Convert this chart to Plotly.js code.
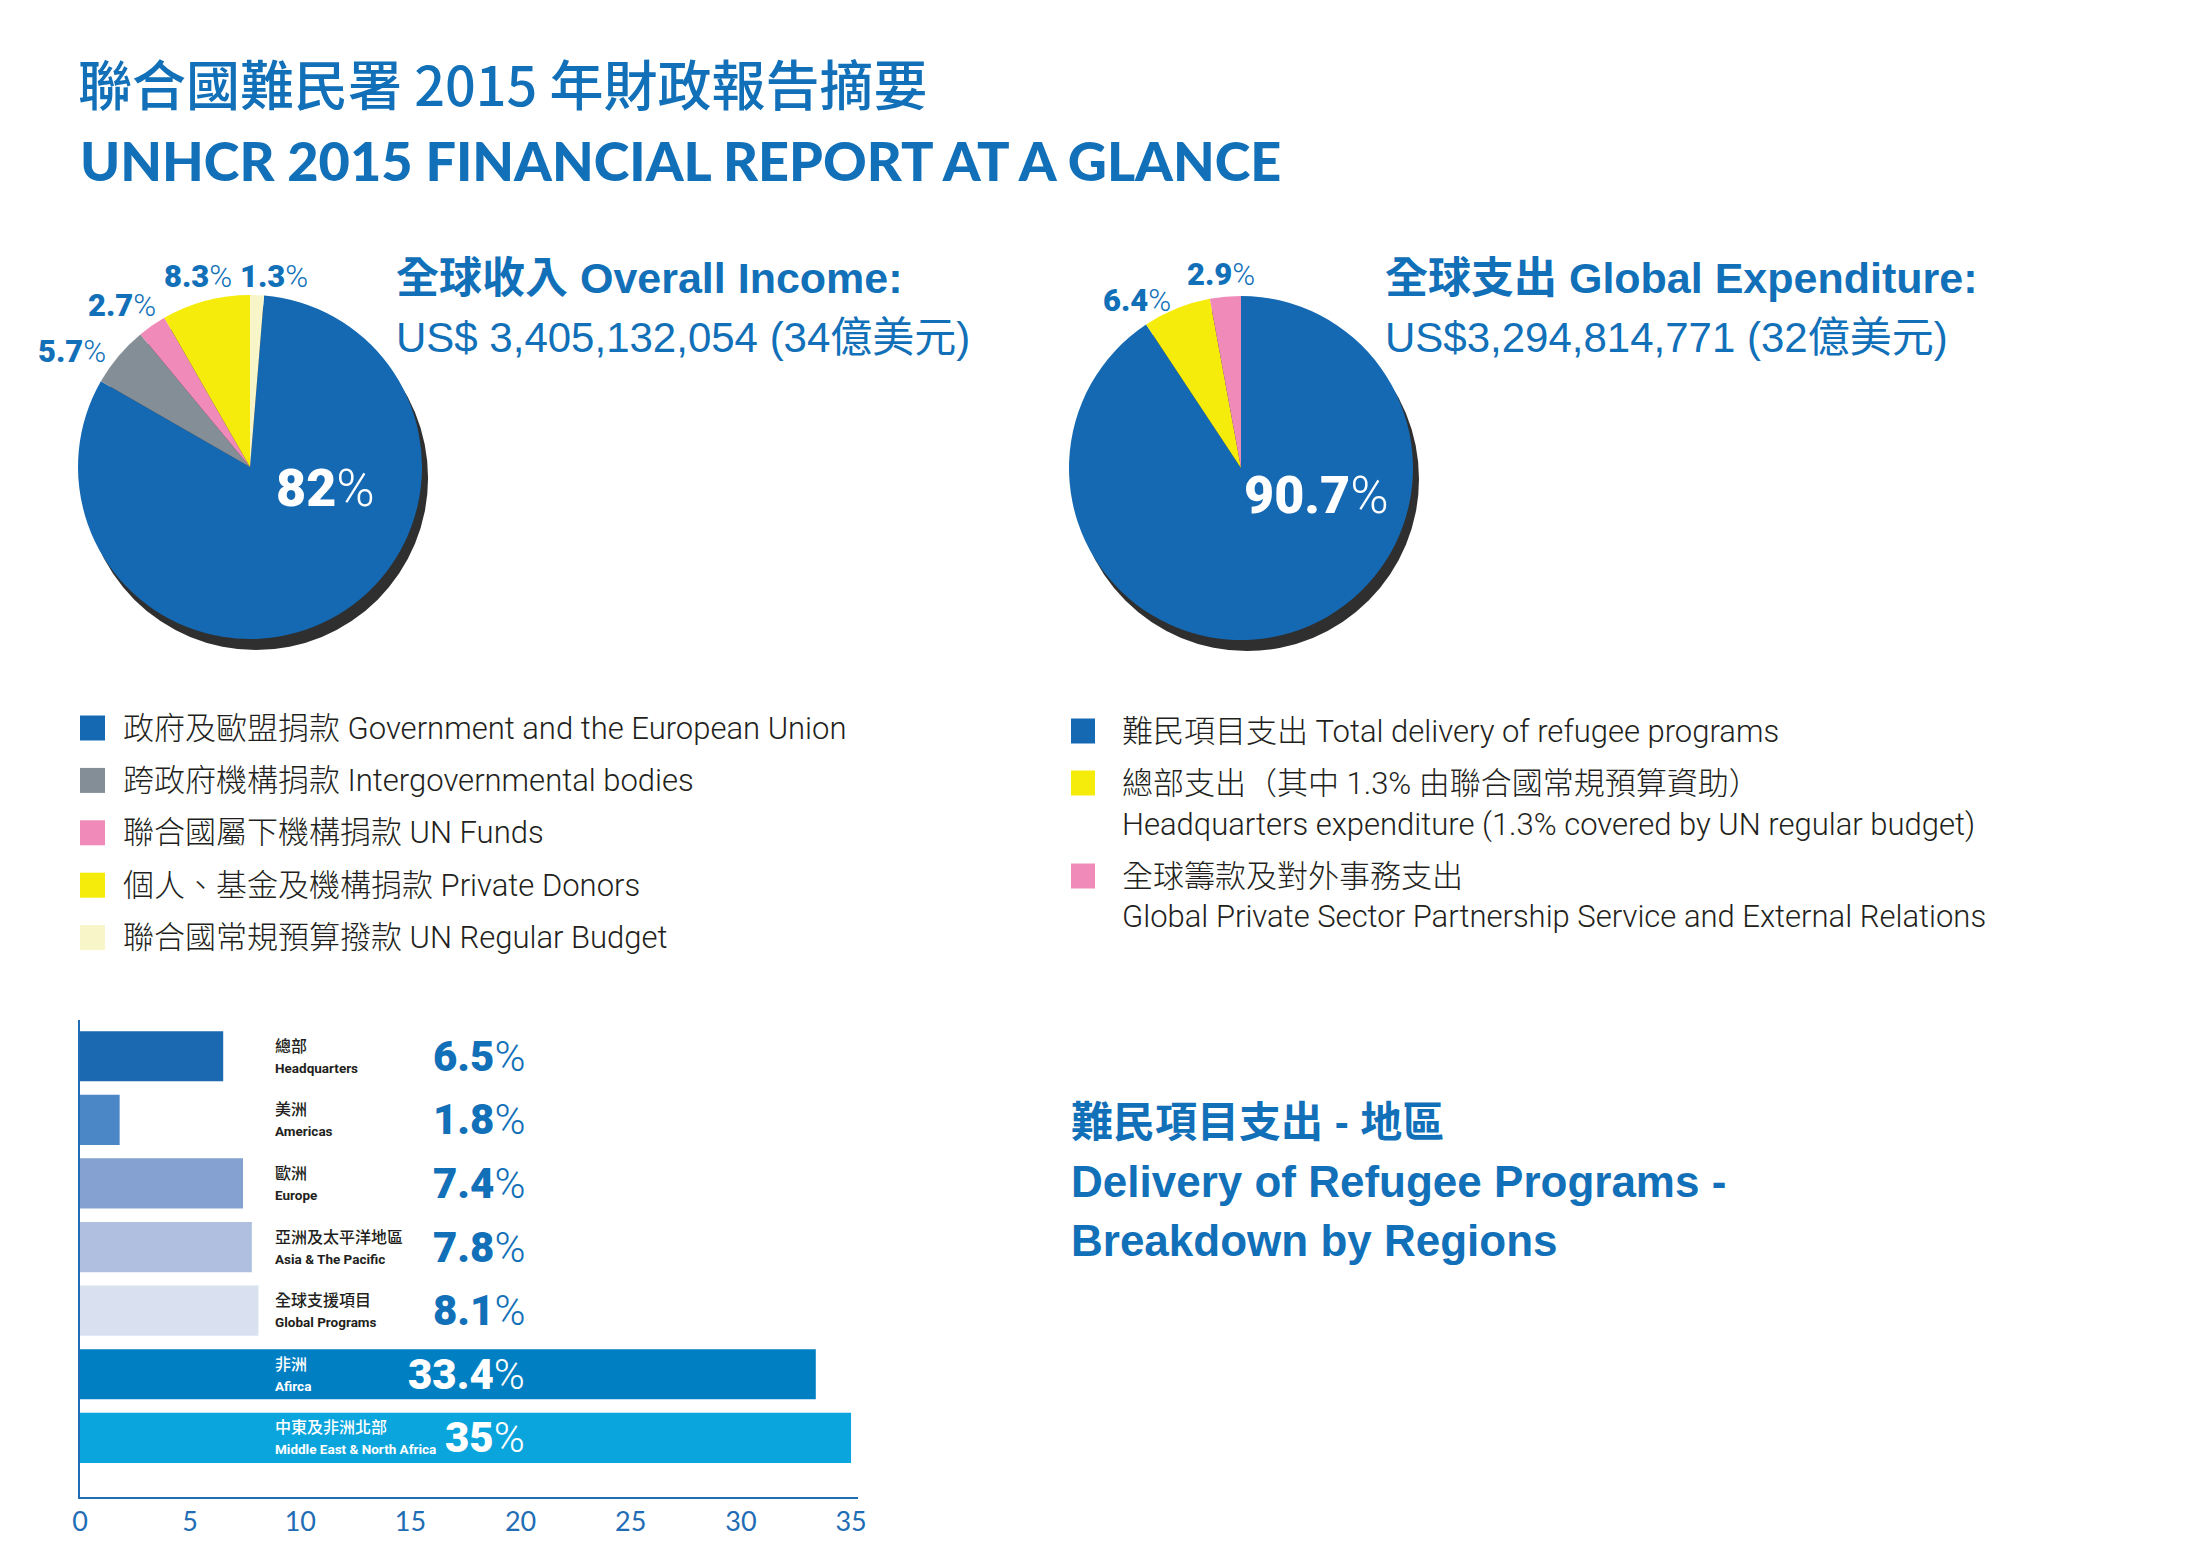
<!DOCTYPE html>
<html>
<head>
<meta charset="utf-8">
<script src="https://cdn.plot.ly/plotly-3.0.1.min.js"></script>
<style>html,body{margin:0;padding:0;background:#fff;}#chart{width:2204px;height:1550px;}</style>
</head>
<body>
<div id="chart"></div>
<script>
// ---------- DATA ----------
const titleZh = '聯合國難民署 2015 年財政報告摘要';
const titleEn = 'UNHCR 2015 FINANCIAL REPORT AT A GLANCE';

const incomeTitle = '全球收入 Overall Income:';
const incomeTotal = 'US$ 3,405,132,054 (34億美元)';
const incomeLabels = [
  '政府及歐盟捐款 Government and the European Union',
  '跨政府機構捐款 Intergovernmental bodies',
  '聯合國屬下機構捐款 UN Funds',
  '個人、基金及機構捐款 Private Donors',
  '聯合國常規預算撥款 UN Regular Budget'
];
const incomeValues = [82, 5.7, 2.7, 8.3, 1.3];

const expenseTitle = '全球支出 Global Expenditure:';
const expenseTotal = 'US$3,294,814,771 (32億美元)';
const expenseLabels = [
  '難民項目支出 Total delivery of refugee programs',
  '總部支出（其中 1.3% 由聯合國常規預算資助）<br>Headquarters expenditure (1.3% covered by UN regular budget)',
  '全球籌款及對外事務支出<br>Global Private Sector Partnership Service and External Relations'
];
const expenseValues = [90.7, 6.4, 2.9];

const regionTitleLines = ['難民項目支出 - 地區', 'Delivery of Refugee Programs -', 'Breakdown by Regions'];
const regionZh = ['總部', '美洲', '歐洲', '亞洲及太平洋地區', '全球支援項目', '非洲', '中東及非洲北部'];
const regionEn = ['Headquarters', 'Americas', 'Europe', 'Asia & The Pacific', 'Global Programs', 'Afirca', 'Middle East & North Africa'];
const regionValues = [6.5, 1.8, 7.4, 7.8, 8.1, 33.4, 35];
const xTickValues = [0, 5, 10, 15, 20, 25, 30, 35];

// ---------- STYLE / LAYOUT ----------
const W = 2204, H = 1550;
const BLUE_TXT = '#1170b8';
const DARK_TXT = '#231f20';
const PIE_BLUE = '#1569b2';
const incomeColors = [PIE_BLUE, '#838e96', '#f08ab8', '#f6ec0c', '#f8f6c9'];
const expenseColors = [PIE_BLUE, '#f6ec0c', '#f08ab8'];
const barColors = ['#1a69b1', '#4b87c6', '#85a1d2', '#b0bfe0', '#d9e1f1', '#0080c3', '#0ba5dd'];
const barLabelColors = [DARK_TXT, DARK_TXT, DARK_TXT, DARK_TXT, DARK_TXT, '#ffffff', '#ffffff'];
const barPctColors = [BLUE_TXT, BLUE_TXT, BLUE_TXT, BLUE_TXT, BLUE_TXT, '#ffffff', '#ffffff'];
const SANS = 'Roboto, "Noto Sans CJK TC", sans-serif';
const ARIAL = '"Liberation Sans", Arial, "Noto Sans CJK TC", sans-serif';

// label anchor positions (pixels) for pie percentages, index-aligned with the slices
const incomeLabelPos = [[325, 489], [72, 351], [122, 306], [198, 276], [274, 276]];
const expenseLabelPos = [[1316, 495], [1137, 300], [1221, 274]];

const px = x => x / W;
const py = y => 1 - y / H;
function pieDomain(cx, cy, r) {
  return {x: [(cx - r) / W, (cx + r) / W], y: [1 - (cy + r) / H, 1 - (cy - r) / H]};
}
function pctText(v) {
  return '<span style="font-weight:900">' + v + '</span><span style="font-weight:300">%</span>';
}

const R = 172;
const inc = {cx: 250, cy: 467};
const exp = {cx: 1241, cy: 468};
const SH = {dx: 6, dy: 11};

const traces = [];
// drop shadows under the pies
traces.push({type: 'pie', values: [1], labels: ['s1'], marker: {colors: ['#2f2f2f'], line: {width: 0}},
  domain: pieDomain(inc.cx + SH.dx, inc.cy + SH.dy, R), textinfo: 'none', hoverinfo: 'skip', showlegend: false, sort: false});
traces.push({type: 'pie', values: [1], labels: ['s2'], marker: {colors: ['#2f2f2f'], line: {width: 0}},
  domain: pieDomain(exp.cx + SH.dx, exp.cy + SH.dy, R), textinfo: 'none', hoverinfo: 'skip', showlegend: false, sort: false});

// income pie
traces.push({
  type: 'pie', values: incomeValues, labels: incomeLabels, textinfo: 'none',
  marker: {colors: incomeColors, line: {width: 0}},
  sort: false, direction: 'clockwise',
  rotation: incomeValues[incomeValues.length - 1] * 3.6,
  domain: pieDomain(inc.cx, inc.cy, R), showlegend: false, hoverinfo: 'label+percent'
});
// expenditure pie
traces.push({
  type: 'pie', values: expenseValues, labels: expenseLabels, textinfo: 'none',
  marker: {colors: expenseColors, line: {width: 0}},
  sort: false, direction: 'clockwise', rotation: 0,
  domain: pieDomain(exp.cx, exp.cy, R), showlegend: false, hoverinfo: 'label+percent'
});
// region bars
traces.push({
  type: 'bar', orientation: 'h', x: regionValues, y: regionEn,
  marker: {color: barColors, line: {width: 0}}, width: 0.79,
  hoverinfo: 'x+y', showlegend: false, xaxis: 'x', yaxis: 'y'
});

const annotations = [];
const shapes = [];
function ann(text, x, y, o) {
  annotations.push(Object.assign({text: text, x: px(x), y: py(y), xref: 'paper', yref: 'paper',
    showarrow: false, xanchor: 'left', yanchor: 'middle', align: 'left'}, o || {}));
}

// main English title
ann(titleEn, 78, 160, {font: {family: 'Lato, ' + SANS, size: 54, weight: 900, color: BLUE_TXT}});

// pie titles
ann('<b>' + incomeTitle + '</b>', 394, 278, {font: {family: ARIAL, size: 43, color: BLUE_TXT}});
ann(incomeTotal, 394, 337, {font: {family: ARIAL, size: 42, color: BLUE_TXT}});
ann('<b>' + expenseTitle + '</b>', 1383, 278, {font: {family: ARIAL, size: 43, color: BLUE_TXT}});
ann(expenseTotal, 1383, 337, {font: {family: ARIAL, size: 42, color: BLUE_TXT}});

// pie percentage labels
function pieLabels(values, pos) {
  values.forEach((v, i) => {
    const big = i === 0;
    ann(pctText(v), pos[i][0], pos[i][1], {xanchor: 'center',
      font: {family: SANS, size: big ? 52 : 31, color: big ? '#ffffff' : BLUE_TXT}});
  });
}
pieLabels(incomeValues, incomeLabelPos);
pieLabels(expenseValues, expenseLabelPos);

// left legend
incomeLabels.forEach((lab, i) => {
  const yc = 728 + 52.4 * i;
  shapes.push({type: 'rect', xref: 'paper', yref: 'paper', x0: px(80), x1: px(105), y0: py(yc + 12.5), y1: py(yc - 12.5),
    fillcolor: incomeColors[i], line: {width: 0}});
  ann(lab, 121, yc, {font: {family: SANS, size: 31, color: DARK_TXT, weight: 300}});
});
// right legend
let yRow = 731;
expenseLabels.forEach((lab, i) => {
  shapes.push({type: 'rect', xref: 'paper', yref: 'paper', x0: px(1071), x1: px(1095), y0: py(yRow + 12.5), y1: py(yRow - 12.5),
    fillcolor: expenseColors[i], line: {width: 0}});
  const lines = lab.split('<br>');
  lines.forEach((ln, k) => {
    ann(ln, 1120, yRow + 41 * k, {font: {family: SANS, size: 31, color: DARK_TXT, weight: 300}});
  });
  yRow += 52 + 41 * (lines.length - 1);
});

// region section title
ann('<b>' + regionTitleLines[0] + '</b>', 1069, 1122, {font: {family: ARIAL, size: 42, color: BLUE_TXT}});
ann('<b>' + regionTitleLines[1] + '</b>', 1069, 1181, {font: {family: ARIAL, size: 44, color: BLUE_TXT}});
ann('<b>' + regionTitleLines[2] + '</b>', 1069, 1240, {font: {family: ARIAL, size: 44, color: BLUE_TXT}});

// bar labels
regionEn.forEach((en, i) => {
  annotations.push({xref: 'x', yref: 'y', x: 8.75, y: en, xanchor: 'left', yanchor: 'middle', align: 'left', showarrow: false,
    text: '<span style="font-weight:500">' + regionZh[i] + '</span><br><b><span style="font-size:13.5px">' + en + '</span></b>',
    font: {family: SANS, size: 16, color: barLabelColors[i]}});
  annotations.push({xref: 'x', yref: 'y', x: 20.3, y: en, xanchor: 'right', yanchor: 'middle', showarrow: false,
    text: pctText(regionValues[i]),
    font: {family: SANS, size: 42, color: barPctColors[i]}});
});

const layout = {
  width: W, height: H,
  margin: {l: 0, r: 0, t: 0, b: 0},
  paper_bgcolor: '#ffffff', plot_bgcolor: 'rgba(0,0,0,0)',
  font: {family: SANS, color: DARK_TXT},
  showlegend: false,
  title: {text: titleZh, x: px(78), xanchor: 'left', xref: 'paper', y: py(87), yanchor: 'middle', yref: 'paper',
    font: {family: '"Noto Sans CJK TC", ' + SANS, size: 54, weight: 500, color: BLUE_TXT}},
  xaxis: {
    domain: [px(80), px(80 + 35.3 * 22.03)], range: [0, 35.3],
    tickvals: xTickValues, ticktext: xTickValues.map(String),
    showgrid: false, zeroline: false, showline: true, linecolor: '#1f6db4', linewidth: 2,
    ticks: '', tickfont: {family: 'Lato, ' + SANS, size: 27, color: '#1f6db4'}, ticklabelstandoff: 0,
    fixedrange: true
  },
  yaxis: {
    domain: [py(1497), py(1020)], type: 'category', categoryorder: 'array', categoryarray: regionEn,
    range: [6.93, -0.57], showgrid: false, zeroline: false, showline: true, linecolor: '#1f6db4', linewidth: 2,
    showticklabels: false, ticks: '', fixedrange: true
  },
  annotations: annotations,
  shapes: shapes
};

Plotly.newPlot('chart', traces, layout, {displayModeBar: false, responsive: false});
</script>
</body>
</html>
